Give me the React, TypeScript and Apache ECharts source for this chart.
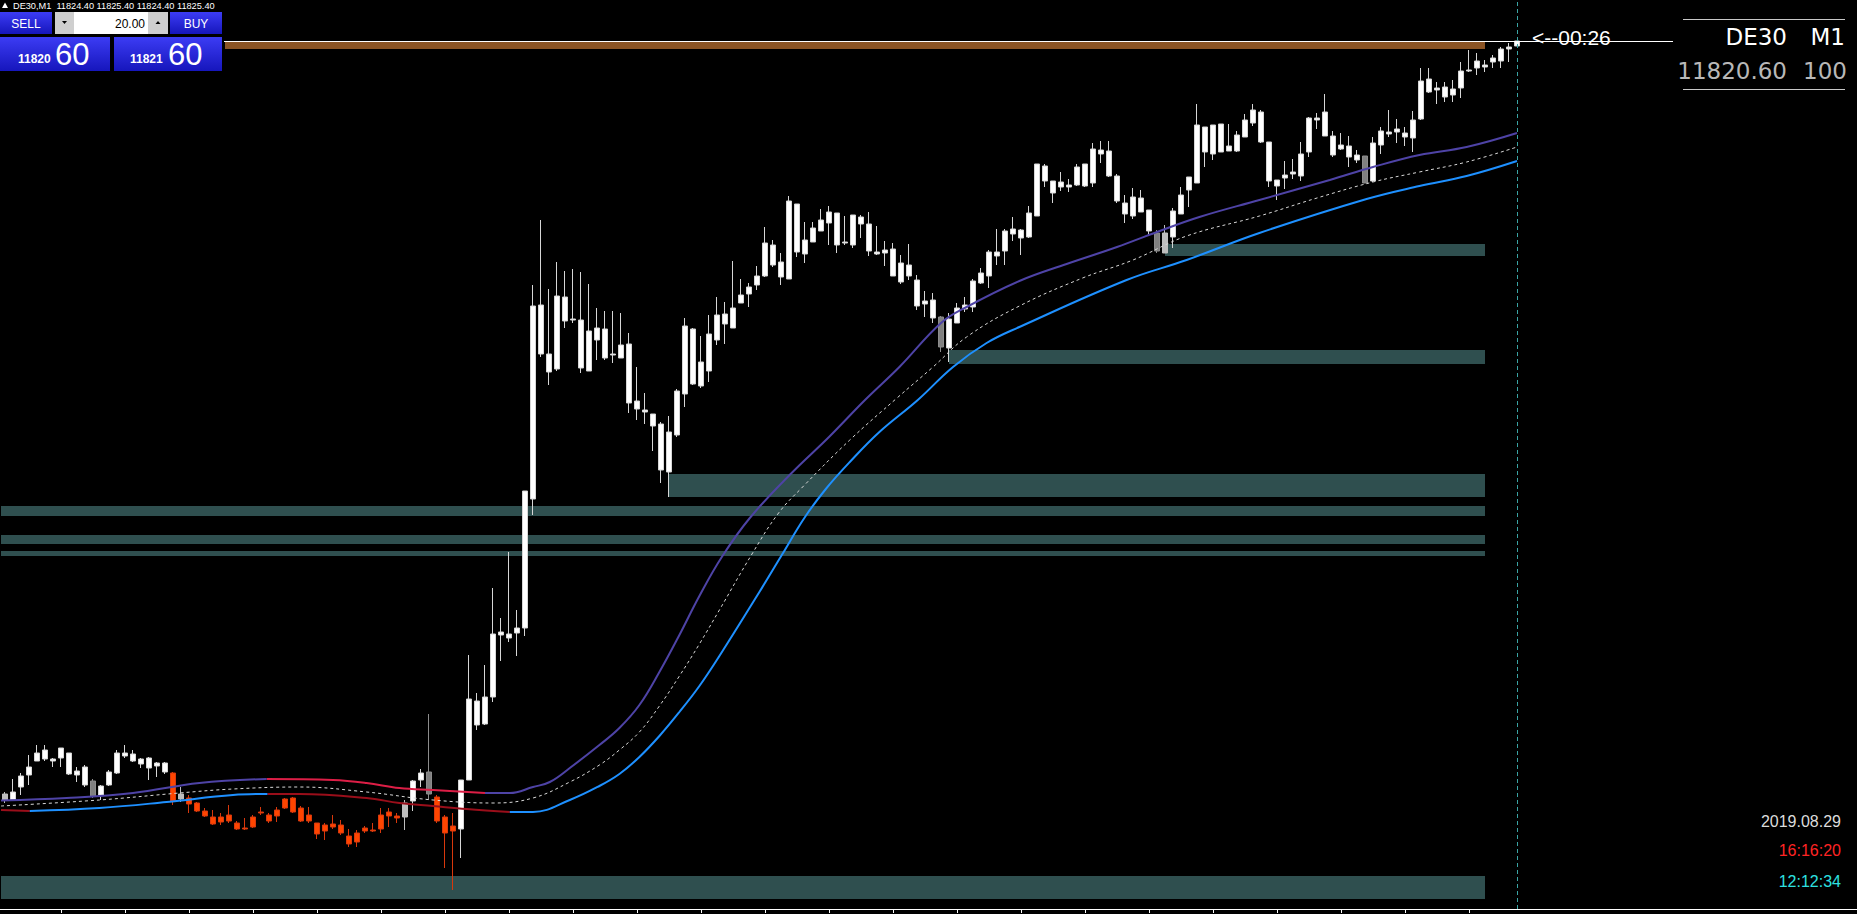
import React, { useEffect, useRef } from 'react';
import * as echarts from 'echarts';

// ---- candle data (DE30, M1) ----
const OPEN = [
  11673.6, 11673.6, 11676.2, 11678.6, 11681.4, 11683.6, 11681.4, 11684.0, 11683.0, 11679.4,
  11680.2, 11677.4, 11674.6, 11676.6, 11679.0, 11683.0, 11682.8, 11681.8, 11682.0, 11681.0,
  11681.0, 11679.0, 11673.8, 11674.0, 11673.0, 11671.4, 11670.2, 11669.2, 11670.6, 11669.0,
  11667.8, 11668.2, 11671.0, 11670.6, 11670.4, 11672.0, 11674.0, 11672.0, 11670.6, 11669.0,
  11667.4, 11668.8, 11668.6, 11666.4, 11665.2, 11667.4, 11667.4, 11667.8, 11670.4, 11670.4,
  11670.2, 11673.4, 11677.6, 11679.2, 11674.2, 11670.2, 11668.4, 11667.8, 11677.6, 11693.4,
  11688.8, 11694.2, 11706.6, 11706.8, 11707.0, 11708.0, 11733.8, 11772.6, 11762.8, 11759.8,
  11774.2, 11769.8, 11769.6, 11759.4, 11765.6, 11767.8, 11762.6, 11762.0, 11764.8, 11753.4,
  11751.6, 11750.8, 11748.8, 11739.2, 11746.6, 11754.8, 11767.8, 11756.4, 11759.4, 11765.6,
  11768.8, 11768.0, 11773.0, 11774.8, 11776.6, 11778.4, 11784.6, 11781.2, 11777.8, 11792.8,
  11782.8, 11785.2, 11787.4, 11789.0, 11791.0, 11785.0, 11784.6, 11790.2, 11788.8, 11783.2,
  11783.0, 11783.8, 11781.0, 11778.4, 11777.6, 11773.4, 11773.6, 11770.2, 11764.0, 11769.0,
  11771.8, 11772.2, 11777.0, 11778.4, 11782.4, 11783.4, 11786.8, 11787.6, 11786.2, 11790.4,
  11800.4, 11797.4, 11796.2, 11796.6, 11796.6, 11800.8, 11797.0, 11803.6, 11803.4, 11798.4,
  11793.0, 11790.4, 11794.0, 11791.6, 11787.0, 11783.0, 11786.2, 11790.8, 11795.6, 11797.0,
  11808.2, 11802.8, 11808.8, 11803.4, 11803.4, 11806.2, 11809.0, 11811.2, 11805.2, 11797.6,
  11798.0, 11798.8, 11798.4, 11803.2, 11809.6, 11811.2, 11806.4, 11803.8, 11804.4, 11802.6,
  11802.4, 11797.4, 11804.6, 11806.8, 11807.2, 11807.0, 11806.0, 11809.8, 11817.8, 11815.6,
  11816.2, 11814.6, 11816.0, 11819.4, 11820.0, 11820.6, 11821.2, 11821.4, 11823.8, 11824.4,
];
const CLOSE = [
  11674.8, 11675.2, 11678.4, 11680.2, 11683.0, 11681.8, 11681.8, 11682.0, 11678.8, 11678.6,
  11676.6, 11674.4, 11676.4, 11679.2, 11683.0, 11682.4, 11681.4, 11680.8, 11680.0, 11680.4,
  11679.2, 11673.4, 11674.8, 11672.8, 11671.4, 11670.4, 11668.8, 11670.2, 11669.4, 11667.8,
  11668.0, 11670.2, 11671.2, 11669.4, 11671.6, 11673.8, 11671.2, 11669.4, 11669.4, 11666.8,
  11668.6, 11668.2, 11667.0, 11664.8, 11667.0, 11668.0, 11667.6, 11670.6, 11671.2, 11670.0,
  11673.0, 11677.4, 11679.0, 11674.8, 11669.4, 11667.0, 11667.4, 11677.6, 11693.8, 11688.6,
  11694.2, 11706.8, 11707.2, 11706.0, 11708.0, 11735.4, 11772.4, 11762.8, 11759.2, 11774.4,
  11769.4, 11769.6, 11760.0, 11767.4, 11768.0, 11762.0, 11762.8, 11764.6, 11753.0, 11751.8,
  11751.2, 11748.4, 11739.6, 11747.2, 11755.4, 11768.4, 11756.8, 11761.2, 11766.8, 11770.6,
  11770.8, 11772.0, 11774.6, 11776.2, 11778.4, 11785.0, 11780.6, 11778.2, 11793.4, 11783.2,
  11785.6, 11788.0, 11789.6, 11791.2, 11784.6, 11785.2, 11790.6, 11788.8, 11783.4, 11782.8,
  11783.6, 11778.4, 11777.2, 11780.6, 11772.4, 11772.8, 11770.0, 11764.2, 11769.8, 11772.0,
  11772.6, 11777.4, 11779.0, 11783.2, 11783.2, 11787.4, 11787.8, 11786.0, 11791.0, 11800.8,
  11797.4, 11795.0, 11797.2, 11796.2, 11800.2, 11796.4, 11803.8, 11802.8, 11798.4, 11793.4,
  11790.8, 11794.2, 11791.2, 11787.4, 11783.4, 11787.0, 11791.4, 11794.6, 11798.2, 11808.6,
  11803.2, 11808.6, 11803.2, 11804.4, 11806.6, 11809.6, 11811.6, 11805.2, 11797.4, 11796.4,
  11798.6, 11799.2, 11802.8, 11810.0, 11810.0, 11806.4, 11802.6, 11804.6, 11802.2, 11801.6,
  11797.0, 11805.0, 11807.4, 11807.2, 11807.8, 11806.2, 11809.6, 11817.4, 11815.2, 11816.0,
  11814.2, 11815.8, 11819.4, 11819.6, 11821.4, 11820.2, 11822.0, 11823.8, 11824.2, 11825.4,
];
const LOW = [
  11673.0, 11673.6, 11674.6, 11676.6, 11681.4, 11681.4, 11680.2, 11680.2, 11678.6, 11677.2,
  11676.2, 11674.0, 11673.6, 11676.4, 11678.8, 11682.0, 11681.2, 11680.0, 11677.6, 11678.2,
  11678.8, 11672.6, 11673.2, 11671.0, 11671.2, 11670.2, 11668.6, 11668.6, 11669.0, 11667.6,
  11667.6, 11668.0, 11670.6, 11669.0, 11669.2, 11671.8, 11671.0, 11669.2, 11669.0, 11665.8,
  11665.6, 11667.8, 11666.6, 11664.2, 11664.2, 11667.0, 11667.2, 11667.0, 11668.2, 11669.0,
  11667.6, 11671.4, 11676.2, 11673.6, 11669.0, 11660.0, 11655.6, 11662.0, 11677.6, 11687.6,
  11688.6, 11693.2, 11701.4, 11705.2, 11702.4, 11706.4, 11730.6, 11762.2, 11756.6, 11759.4,
  11768.0, 11769.0, 11759.0, 11759.4, 11761.6, 11761.6, 11761.0, 11762.0, 11751.0, 11749.6,
  11748.8, 11743.4, 11737.0, 11734.2, 11746.2, 11752.2, 11756.6, 11756.0, 11757.2, 11764.6,
  11764.8, 11768.0, 11773.0, 11772.2, 11775.6, 11778.2, 11780.2, 11776.6, 11777.8, 11782.2,
  11781.0, 11785.2, 11787.4, 11784.6, 11783.0, 11784.6, 11784.0, 11786.0, 11782.4, 11782.6,
  11780.4, 11778.4, 11776.8, 11777.6, 11771.6, 11770.2, 11769.0, 11763.2, 11761.2, 11769.0,
  11771.2, 11771.2, 11776.8, 11776.0, 11780.6, 11780.6, 11785.4, 11782.6, 11786.0, 11790.4,
  11796.2, 11793.0, 11795.4, 11795.2, 11796.4, 11796.2, 11796.2, 11801.0, 11798.2, 11793.0,
  11789.0, 11789.8, 11791.2, 11786.8, 11783.0, 11783.0, 11784.0, 11790.8, 11792.2, 11797.0,
  11800.2, 11801.6, 11803.2, 11803.4, 11803.2, 11806.2, 11808.4, 11805.0, 11796.2, 11793.6,
  11795.8, 11797.8, 11797.4, 11802.2, 11807.8, 11806.4, 11802.2, 11803.6, 11800.2, 11801.0,
  11797.0, 11797.2, 11802.8, 11806.2, 11805.0, 11804.4, 11803.2, 11809.6, 11815.0, 11812.8,
  11813.2, 11813.2, 11814.0, 11819.2, 11818.6, 11819.2, 11820.0, 11820.0, 11821.2, 11824.4,
];
const HIGH = [
  11675.2, 11677.8, 11679.0, 11682.6, 11684.6, 11684.6, 11682.0, 11684.0, 11683.0, 11680.2,
  11680.6, 11677.8, 11676.6, 11679.6, 11683.6, 11684.6, 11683.6, 11682.0, 11682.2, 11681.2,
  11681.2, 11679.2, 11676.2, 11674.6, 11673.2, 11672.0, 11671.6, 11671.0, 11672.6, 11669.4,
  11670.0, 11670.6, 11672.2, 11671.0, 11672.2, 11674.0, 11674.2, 11672.4, 11672.2, 11669.0,
  11669.0, 11670.6, 11669.6, 11667.8, 11667.6, 11668.4, 11669.0, 11672.0, 11672.0, 11671.0,
  11673.6, 11677.6, 11679.8, 11690.8, 11674.6, 11670.6, 11671.0, 11677.6, 11702.6, 11695.0,
  11700.6, 11716.0, 11710.0, 11723.2, 11711.6, 11735.4, 11776.6, 11789.6, 11775.8, 11781.2,
  11779.4, 11779.8, 11779.2, 11776.8, 11772.0, 11771.4, 11771.4, 11771.0, 11767.0, 11760.2,
  11755.0, 11750.8, 11749.2, 11750.4, 11755.8, 11770.0, 11768.0, 11766.4, 11770.6, 11774.2,
  11773.2, 11781.4, 11777.8, 11777.0, 11780.4, 11788.2, 11785.6, 11783.0, 11794.4, 11792.8,
  11789.2, 11789.2, 11791.8, 11792.4, 11791.0, 11790.4, 11790.6, 11790.6, 11791.2, 11788.4,
  11785.4, 11785.0, 11782.6, 11784.8, 11778.6, 11775.4, 11775.0, 11770.4, 11771.0, 11773.0,
  11774.2, 11777.8, 11780.0, 11783.6, 11787.8, 11787.8, 11790.2, 11787.8, 11792.4, 11800.8,
  11800.8, 11797.4, 11799.2, 11797.8, 11800.8, 11800.8, 11805.0, 11805.4, 11805.4, 11798.8,
  11794.6, 11796.0, 11795.6, 11791.6, 11787.6, 11788.6, 11792.0, 11796.2, 11798.2, 11812.8,
  11808.2, 11808.6, 11808.8, 11808.8, 11807.4, 11810.8, 11812.8, 11811.6, 11805.2, 11797.6,
  11801.4, 11801.8, 11805.2, 11810.2, 11811.0, 11814.8, 11807.4, 11807.0, 11806.4, 11803.6,
  11802.4, 11806.2, 11808.2, 11811.6, 11809.8, 11808.2, 11811.4, 11820.0, 11820.0, 11817.2,
  11817.2, 11817.6, 11821.2, 11823.6, 11823.0, 11821.6, 11822.6, 11824.2, 11825.0, 11825.4,
];

// candle regime colouring of the template
const GRAY_BARS = [11, 53, 117, 144, 170];
const PALE_BARS = [0, 22, 50, 145];
const BEAR_RUNS = [[21, 21], [23, 49], [54, 56]];

// moving-average envelope, [bar index, price]
const MA_UPPER = [
  [-0.5, 11673.5], [7.7, 11674.0], [16.0, 11675.0], [24.3, 11677.0], [32.7, 11677.8], [41.0, 11677.6],
  [45.2, 11677.0], [49.3, 11676.0], [53.5, 11675.6], [60.0, 11675.0], [63.1, 11675.0], [66.0, 11676.2],
  [68.1, 11677.2], [70.6, 11680.0], [74.3, 11684.6], [76.8, 11688.0], [79.3, 11692.6], [81.8, 11699.2],
  [84.3, 11706.6], [86.8, 11714.4], [89.6, 11722.2], [93.1, 11730.0], [98.2, 11738.8], [103.0, 11746.2],
  [107.5, 11753.6], [111.8, 11760.2], [117.0, 11769.0], [120.2, 11772.2], [126.8, 11777.4], [132.7, 11780.8],
  [139.0, 11784.2], [144.0, 11787.2], [149.3, 11790.2], [156.8, 11793.6], [165.6, 11797.6], [171.0, 11800.2],
  [176.8, 11802.6], [182.7, 11804.2], [189.0, 11807.0],
];
const MA_MIDDLE = [
  [-0.5, 11672.4], [11.8, 11673.6], [21.8, 11675.0], [28.5, 11675.8], [36.8, 11676.2], [45.2, 11675.2],
  [53.5, 11673.6], [61.0, 11673.0], [66.0, 11674.0], [70.6, 11677.2], [74.3, 11680.6], [76.8, 11683.6],
  [79.3, 11687.2], [81.8, 11692.4], [84.3, 11698.4], [86.8, 11704.8], [89.3, 11711.6], [93.3, 11722.6],
  [96.7, 11731.0], [99.7, 11736.2], [105.6, 11745.6], [111.5, 11754.0], [116.0, 11760.2], [120.2, 11766.2],
  [126.8, 11772.4], [134.7, 11778.0], [141.0, 11781.6], [147.7, 11786.4], [156.8, 11790.4], [164.0, 11794.0],
  [171.0, 11797.2], [176.8, 11799.2], [182.7, 11801.2], [189.0, 11804.2],
];
const MA_LOWER = [
  [-0.5, 11671.6], [3.1, 11671.4], [11.8, 11672.0], [20.2, 11673.2], [28.5, 11674.6], [32.8, 11674.8],
  [36.8, 11674.8], [45.2, 11674.0], [49.3, 11673.0], [53.5, 11672.4], [57.7, 11671.8], [63.1, 11671.2],
  [66.0, 11671.2], [70.6, 11673.6], [74.3, 11676.4], [76.8, 11678.8], [79.3, 11682.2], [81.8, 11686.4],
  [84.3, 11691.2], [86.8, 11696.4], [89.3, 11702.4], [94.3, 11715.2], [97.1, 11722.6], [100.0, 11730.2],
  [102.6, 11735.8], [105.6, 11741.2], [109.3, 11747.2], [114.1, 11753.6], [118.5, 11760.2], [122.7, 11765.0],
  [126.8, 11768.2], [140.2, 11777.6], [147.7, 11781.6], [156.8, 11787.0], [170.2, 11793.8], [176.8, 11796.4],
  [182.7, 11798.4], [189.0, 11801.4],
];
const UPPER_DOWN = [[32.7, 60.0]];
const LOWER_DOWN = [[-0.5, 3.1], [32.8, 63.1]];

// supply / demand zones
const ZONE_FROM = [145, 118, 83, -0.5, -0.5, -0.5, -0.5];
const ZONE_TO = [185, 185, 185, 185, 185, 185, 185];
const ZONE_HIGH = [11784.8, 11763.6, 11738.8, 11732.4, 11726.6, 11723.4, 11658.4];
const ZONE_LOW = [11782.4, 11760.8, 11734.2, 11730.4, 11724.8, 11722.4, 11653.8];
const BAND_FROM = 27.5;
const BAND_TO = 185;
const BAND_HIGH = 11825.4;
const BAND_LOW = 11823.8;

const Y_MIN = 11651.8;
const Y_MAX = 11833.6;

const FONT = '"Liberation Sans", Arial, sans-serif';
const HUD_FONT = '"DejaVu Sans", Verdana, sans-serif';

function segment(pts: number[][], a: number, b: number) {
  return pts.filter((p) => p[0] >= a - 1e-9 && p[0] <= b + 1e-9);
}
function complement(ranges: number[][], lo: number, hi: number) {
  const out: number[][] = [];
  let cur = lo;
  ranges.forEach(([a, b]) => {
    if (a > cur) out.push([cur, a]);
    cur = Math.max(cur, b);
  });
  if (cur < hi) out.push([cur, hi]);
  return out;
}

function toneOf(i: number) {
  if (GRAY_BARS.includes(i)) return { body: '#808080', wick: '#8c8c8c' };
  if (PALE_BARS.includes(i)) return { body: '#bdbdbd', wick: '#bdbdbd' };
  if (BEAR_RUNS.some(([a, b]) => i >= a && i <= b)) return { body: '#ff4500', wick: '#d8380c' };
  return { body: '#ffffff', wick: '#d6d6d6' };
}

function buildOption() {
  const n = OPEN.length;
  const cats = OPEN.map((_, i) => String(i));
  const candleData = OPEN.map((o, i) => {
    const t = toneOf(i);
    return {
      value: [o, CLOSE[i], LOW[i], HIGH[i]],
      itemStyle: { color: t.body, color0: t.body, borderColor: t.wick, borderColor0: t.wick, borderWidth: 1 },
    };
  });
  const line = (data: number[][], color: string, width: number, z: number, dashed = false) => ({
    type: 'line',
    xAxisIndex: 1,
    yAxisIndex: 0,
    data,
    smooth: 0.4,
    symbol: 'none',
    showSymbol: false,
    silent: true,
    z,
    lineStyle: { color, width, type: dashed ? [3, 3] : 'solid' },
  });
  const series: any[] = [];
  series.push({
    type: 'line',
    xAxisIndex: 1,
    yAxisIndex: 0,
    data: [],
    silent: true,
    z: 1,
    markArea: {
      silent: true,
      itemStyle: { color: '#2f4f4f' },
      data: ZONE_FROM.map((f, k) => [
        { xAxis: f, yAxis: ZONE_HIGH[k] },
        { xAxis: ZONE_TO[k], yAxis: ZONE_LOW[k] },
      ]),
    },
    markLine: {
      silent: true,
      symbol: ['none', 'none'],
      label: { show: false },
      lineStyle: { color: '#3aa5a5', type: [4, 3], width: 1 },
      data: [{ xAxis: n - 1 }],
    },
  });
  series.push({
    type: 'line',
    xAxisIndex: 1,
    yAxisIndex: 0,
    data: [],
    silent: true,
    z: 1,
    markArea: {
      silent: true,
      itemStyle: { color: '#8b5424' },
      data: [[{ xAxis: BAND_FROM, yAxis: BAND_HIGH }, { xAxis: BAND_TO, yAxis: BAND_LOW }]],
    },
  });
  series.push({
    type: 'candlestick',
    xAxisIndex: 0,
    yAxisIndex: 0,
    barWidth: 5,
    data: candleData,
    silent: true,
    z: 3,
  });
  UPPER_DOWN.forEach(([a, b]) => series.push(line(segment(MA_UPPER, a, b), '#dc1e46', 2, 4)));
  complement(UPPER_DOWN, -0.5, 189).forEach(([a, b]) => series.push(line(segment(MA_UPPER, a, b), '#4e43a6', 2, 4)));
  LOWER_DOWN.forEach(([a, b]) => series.push(line(segment(MA_LOWER, a, b), '#9a0e1a', 2, 4)));
  complement(LOWER_DOWN, -0.5, 189).forEach(([a, b]) => series.push(line(segment(MA_LOWER, a, b), '#1e90ff', 2, 4)));
  series.push(line(MA_MIDDLE, '#d8d8d8', 1, 5, true));

  return {
    animation: false,
    backgroundColor: '#000000',
    grid: { left: 1, top: 0, width: 1520, height: 909, containLabel: false },
    xAxis: [
      {
        type: 'category',
        data: cats,
        boundaryGap: true,
        axisLine: { show: false },
        axisTick: {
          show: true,
          alignWithLabel: true,
          interval: (i: number) => i % 8 === 7,
          length: 4,
          lineStyle: { color: '#ffffff', width: 1 },
        },
        axisLabel: { show: false },
        splitLine: { show: false },
      },
      { type: 'value', min: -0.5, max: n - 0.5, show: false, splitLine: { show: false } },
    ],
    yAxis: { type: 'value', min: Y_MIN, max: Y_MAX, show: false, splitLine: { show: false } },
    series,
  };
}

function txt(text: string, x: number, y: number, size: number, fill: string, align = 'left', weight = 'normal', family = FONT) {
  return {
    type: 'text',
    x,
    y,
    z: 120,
    silent: true,
    style: {
      text,
      fill,
      font: `${weight} ${size}px ${family}`,
      textAlign: align,
      textVerticalAlign: 'middle',
    },
  };
}

function buildGraphic(py: number) {
  const last = OPEN.length - 1;
  const f = (v: number) => v.toFixed(2);
  const blue = () =>
    new echarts.graphic.LinearGradient(0, 0, 0, 1, [
      { offset: 0, color: '#3c3cf4' },
      { offset: 1, color: '#1616bc' },
    ]);
  const g: any[] = [];
  // price line and countdown
  g.push({ type: 'line', z: 60, silent: true, shape: { x1: 0, y1: py + 0.5, x2: 1673, y2: py + 0.5 }, style: { stroke: '#ffffff', lineWidth: 1 } });
  g.push(txt('<--00:26', 1532, py - 4, 21, '#ffffff'));
  // bottom axis line
  g.push({ type: 'line', z: 60, silent: true, shape: { x1: 0, y1: 909.5, x2: 1857, y2: 909.5 }, style: { stroke: '#ffffff', lineWidth: 1 } });
  // one-click trading panel
  g.push({ type: 'rect', z: 100, silent: true, shape: { x: 0, y: 0, width: 224, height: 73 }, style: { fill: '#000000' } });
  g.push({ type: 'polygon', z: 110, silent: true, shape: { points: [[2, 8], [5, 2.5], [8, 8]] }, style: { fill: '#ffffff' } });
  g.push(txt(`DE30,M1  ${f(OPEN[last])} ${f(HIGH[last])} ${f(LOW[last])} ${f(CLOSE[last])}`, 13, 5.5, 9.2, '#ffffff'));
  g.push({ type: 'rect', z: 110, silent: true, shape: { x: 0, y: 12, width: 52, height: 22 }, style: { fill: blue() } });
  g.push({ type: 'rect', z: 110, silent: true, shape: { x: 170, y: 12, width: 52, height: 22 }, style: { fill: blue() } });
  g.push({ type: 'rect', z: 110, silent: true, shape: { x: 55, y: 12, width: 19, height: 22 }, style: { fill: '#cfcfcf' } });
  g.push({ type: 'rect', z: 110, silent: true, shape: { x: 74, y: 12, width: 74, height: 22 }, style: { fill: '#ffffff' } });
  g.push({ type: 'rect', z: 110, silent: true, shape: { x: 148, y: 12, width: 20, height: 22 }, style: { fill: '#cfcfcf' } });
  g.push({ type: 'polygon', z: 115, silent: true, shape: { points: [[62, 21], [67, 21], [64.5, 24]] }, style: { fill: '#000000' } });
  g.push({ type: 'polygon', z: 115, silent: true, shape: { points: [[155.5, 24], [160.5, 24], [158, 21]] }, style: { fill: '#000000' } });
  g.push(txt('SELL', 26, 24, 12, '#ffffff', 'center'));
  g.push(txt('BUY', 196, 24, 12, '#ffffff', 'center'));
  g.push(txt('20.00', 145, 24, 12, '#000000', 'right'));
  g.push({ type: 'rect', z: 110, silent: true, shape: { x: 0, y: 37, width: 110, height: 34 }, style: { fill: blue() } });
  g.push({ type: 'rect', z: 110, silent: true, shape: { x: 114, y: 37, width: 108, height: 34 }, style: { fill: blue() } });
  g.push(txt('11820', 18, 59, 12, '#ffffff', 'left', 'bold'));
  g.push(txt('60', 55, 54, 31, '#ffffff'));
  g.push(txt('11821', 130, 59, 12, '#ffffff', 'left', 'bold'));
  g.push(txt('60', 168, 54, 31, '#ffffff'));
  // symbol HUD
  g.push({ type: 'line', z: 100, silent: true, shape: { x1: 1683, y1: 19.5, x2: 1845, y2: 19.5 }, style: { stroke: '#c8c8c8', lineWidth: 1 } });
  g.push({ type: 'line', z: 100, silent: true, shape: { x1: 1683, y1: 89.5, x2: 1845, y2: 89.5 }, style: { stroke: '#c8c8c8', lineWidth: 1 } });
  g.push(txt('DE30', 1787, 37, 23, '#ffffff', 'right', 'normal', HUD_FONT));
  g.push(txt('M1', 1845, 37, 23, '#ffffff', 'right', 'normal', HUD_FONT));
  g.push(txt('11820.60', 1787, 71, 23, '#b8b8b8', 'right', 'normal', HUD_FONT));
  g.push(txt('100', 1847, 71, 23, '#b8b8b8', 'right', 'normal', HUD_FONT));
  // clock
  g.push(txt('2019.08.29', 1841, 821, 16, '#dcdcdc', 'right'));
  g.push(txt('16:16:20', 1841, 850, 16, '#ff2424', 'right'));
  g.push(txt('12:12:34', 1841, 881, 16, '#2ee0e0', 'right'));
  return g;
}

export default function App() {
  const ref = useRef<HTMLDivElement>(null);
  useEffect(() => {
    document.body.style.margin = '0';
    document.body.style.background = '#000000';
    const chart = echarts.init(ref.current as HTMLDivElement, null, { renderer: 'svg' });
    chart.setOption(buildOption() as any);
    const py = chart.convertToPixel({ yAxisIndex: 0 }, CLOSE[CLOSE.length - 1]) as unknown as number;
    chart.setOption({ graphic: buildGraphic(py) } as any);
    return () => chart.dispose();
  }, []);
  return <div ref={ref} style={{ width: 1857, height: 914, background: '#000000' }} />;
}
